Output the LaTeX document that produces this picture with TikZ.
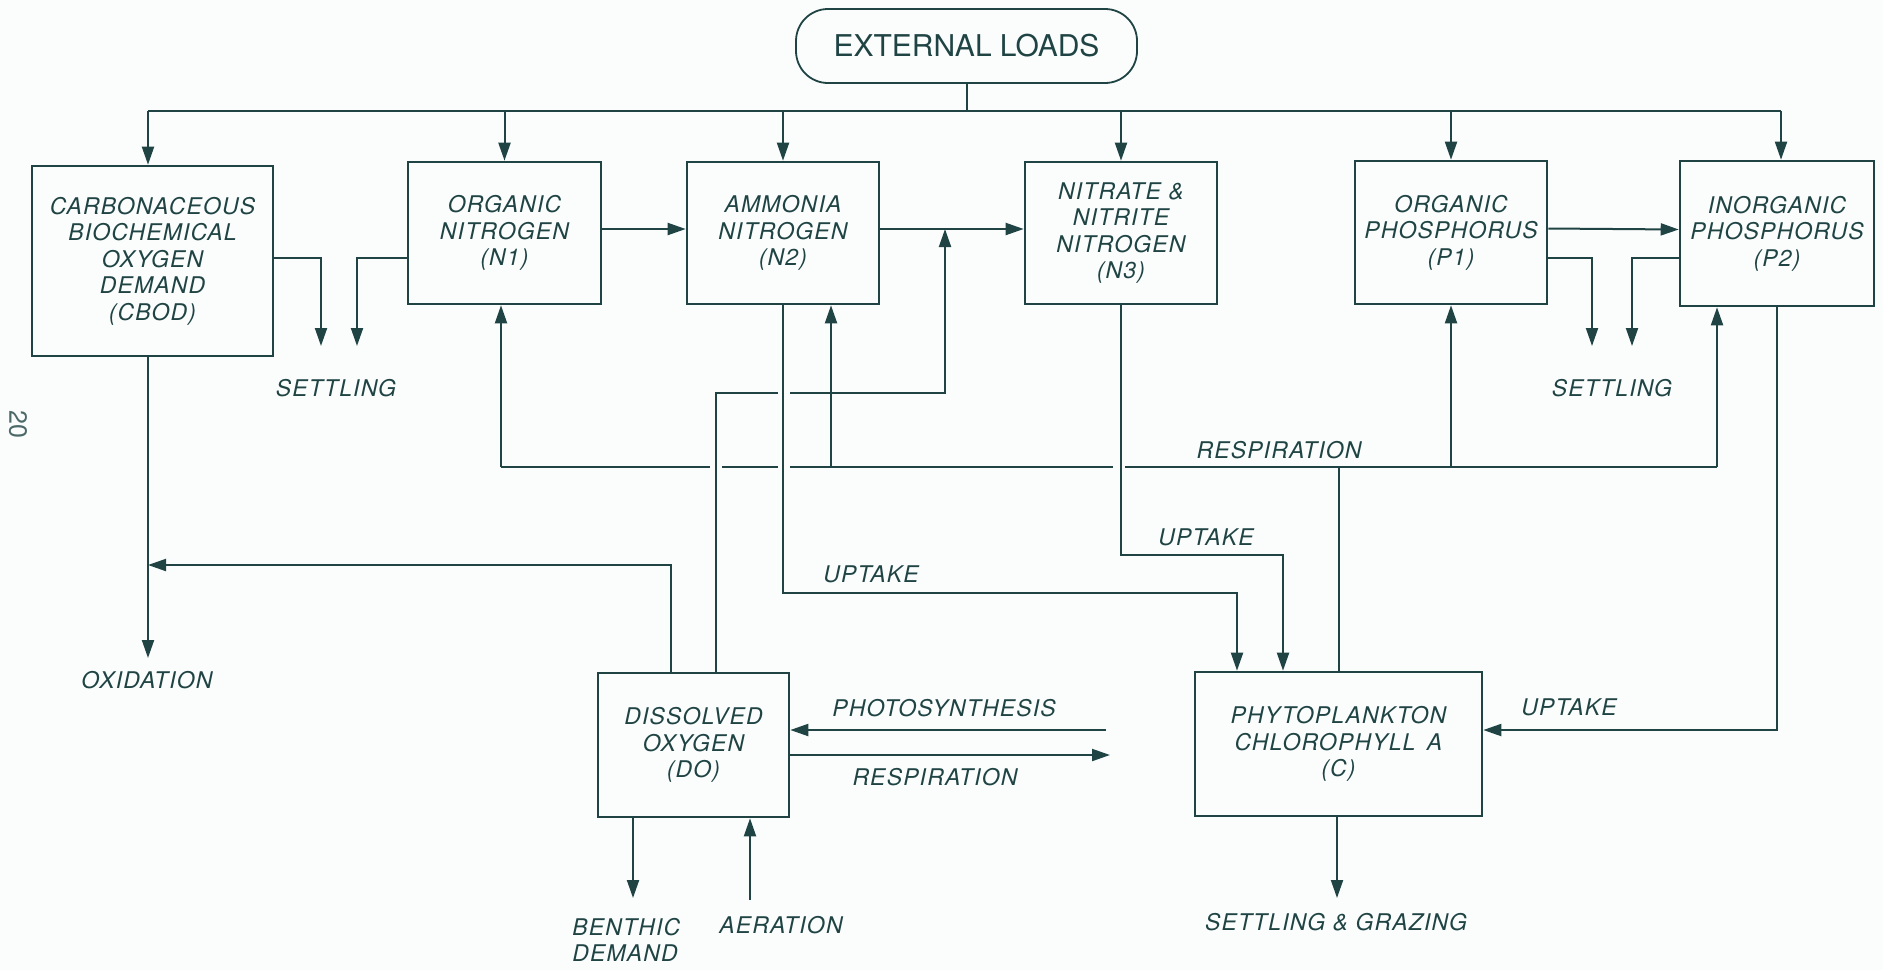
\documentclass[tikz,border=0pt]{standalone}
\usepackage{fontspec}
\newfontfamily\labfont[LetterSpace=5]{TeX Gyre Heros}
\newfontfamily\extfont{TeX Gyre Heros}
\usetikzlibrary{arrows.meta}
\definecolor{ink}{RGB}{32,68,68}
\definecolor{paper}{RGB}{251,253,253}
\begin{document}
\begin{tikzpicture}[x=0.5pt,y=-0.5pt,
  box/.style={draw=ink, line width=1.3pt, inner sep=0pt, align=center, text=ink,
    font=\labfont\itshape\fontsize{11.5}{13.25}\selectfont},
  lab/.style={text=ink, inner sep=0pt, align=center,
    font=\labfont\itshape\fontsize{11.5}{13.25}\selectfont},
  ln/.style={draw=ink, line width=1pt},
  arr/.style={ln, -{Triangle[length=9pt,width=6pt]}}]
\fill[paper] (0,0) rectangle (1883,970);
\useasboundingbox (0,0) rectangle (1883,970);

% ---- nodes ----
\node[draw=ink, line width=0.9pt, rounded corners=16pt, minimum width=170.5pt, minimum height=37pt,
  text=ink, font=\extfont\fontsize{15}{18}\selectfont] (ext) at (966.5,46) {EXTERNAL LOADS};
\node[box, minimum width=120.5pt, minimum height=95pt] (cbod) at (152.5,261)
  {CARBONACEOUS\\BIOCHEMICAL\\OXYGEN\\DEMAND\\(CBOD)};
\node[box, minimum width=96.5pt, minimum height=71pt] (n1) at (504.5,233) {ORGANIC\\NITROGEN\\(N1)};
\node[box, minimum width=96pt, minimum height=71pt] (n2) at (783,233) {AMMONIA\\NITROGEN\\(N2)};
\node[box, minimum width=96pt, minimum height=71pt] (n3) at (1121,233) {NITRATE \&\\NITRITE\\NITROGEN\\(N3)};
\node[box, minimum width=96pt, minimum height=71.5pt] (p1) at (1451,232.5) {ORGANIC\\PHOSPHORUS\\(P1)};
\node[box, minimum width=97pt, minimum height=72.5pt] (p2) at (1777,233.5) {INORGANIC\\PHOSPHORUS\\(P2)};
\node[box, minimum width=95.5pt, minimum height=72pt] (do) at (693.5,745) {DISSOLVED\\OXYGEN\\(DO)};
\node[box, minimum width=143.5pt, minimum height=72pt] (phy) at (1338.5,744)
  {PHYTOPLANKTON\\CHLOROPHYLL\hspace{0.5em}A\\(C)};

% ---- coordinates ----
\coordinate (busL) at (148,111);
\coordinate (busR) at (1781,111);
\coordinate (sety) at (0,258);
\coordinate (s1) at (321,346);
\coordinate (s2) at (357,346);
\coordinate (s3) at (1592,346);
\coordinate (s4) at (1632,346);
\coordinate (ox) at (148,658);
\coordinate (do1) at (671,565);
\coordinate (do2) at (716,393);
\coordinate (jn) at (945,393);
\coordinate (n23) at ([yshift=2pt]n2.east);
\coordinate (ry) at (0,467);
\coordinate (rL) at (501,467);
\coordinate (r2) at (831,467);
\coordinate (rR) at (1717,467);
\coordinate (u1e) at (1237,593);
\coordinate (u2e) at (1283,555);
\coordinate (pu) at ([yshift=7pt]phy.east);
\coordinate (ph1) at (1106,730);
\coordinate (rs1) at (1110,755);
\coordinate (bt) at (633,898);
\coordinate (ae) at (750,900);
\coordinate (sg) at (1337,898);

% ---- external loads bus ----
\draw[ln] (ext.south) -- (ext.south |- busL);
\draw[ln] (busL) -- (busR);
\draw[arr] (busL) -- (busL |- cbod.north);
\draw[arr] (n1.north |- busL) -- (n1.north);
\draw[arr] (n2.north |- busL) -- (n2.north);
\draw[arr] (n3.north |- busL) -- (n3.north);
\draw[arr] (p1.north |- busL) -- (p1.north);
\draw[arr] (busR) -- (busR |- p2.north);

% ---- transformations ----
\draw[arr] ([yshift=2pt]n1.east) -- ([yshift=2pt]n2.west);
\draw[arr] (n23) -- ([yshift=2pt]n3.west);
\draw[arr] ([yshift=2pt]p1.east) -- ([yshift=2pt]p2.west);

% ---- settling ----
\draw[arr] (cbod.east |- sety) -| (s1);
\draw[arr] (n1.west |- sety) -| (s2);
\draw[arr] (p1.east |- sety) -| (s3);
\draw[arr] (p2.west |- sety) -| (s4);
\node[lab] (set1) at (336,388) {SETTLING};
\node[lab] (set2) at (1612,388) {SETTLING};

% ---- oxidation ----
\draw[arr] (cbod.south -| ox) -- (ox);
\node[lab] (oxl) at (147,680) {OXIDATION};
\draw[arr] (do.north -| do1) -- (do1) -- (do1 -| ox);

% ---- DO to nitrification ----
\draw[ln] (do.north -| do2) -- (do2) -- (778,393);
\draw[arr] (790,393) -- (jn) -- (n23 -| jn);

% ---- respiration line ----
\draw[ln] (rL) -- (710,467);
\draw[ln] (722,467) -- (778,467);
\draw[ln] (790,467) -- (1113,467);
\draw[ln] (1125,467) -- (rR);
\draw[arr] (rL) -- (rL |- n1.south);
\draw[arr] (r2) -- (r2 |- n2.south);
\draw[arr] (p1.south |- ry) -- (p1.south);
\draw[arr] (rR) -- (rR |- p2.south);
\draw[ln] (phy.north) -- (phy.north |- ry);
\node[lab] (resp1) at (1279,450) {RESPIRATION};

% ---- uptake ----
\draw[arr] (n2.south) |- (u1e) -- (u1e |- phy.north);
\draw[arr] (n3.south) |- (u2e) -- (u2e |- phy.north);
\draw[arr] (p2.south) |- (pu);
\node[lab] (up1) at (871,574) {UPTAKE};
\node[lab] (up2) at (1206,537) {UPTAKE};
\node[lab] (up3) at (1569,707) {UPTAKE};

% ---- DO / phytoplankton exchange ----
\draw[arr] (ph1) -- (ph1 -| do.east);
\draw[arr] (rs1 -| do.east) -- (rs1);
\node[lab] (phl) at (944,708) {PHOTOSYNTHESIS};
\node[lab] (rsl) at (935,777) {RESPIRATION};

% ---- sinks ----
\draw[arr] (bt |- do.south) -- (bt);
\draw[arr] (ae) -- (ae |- do.south);
\draw[arr] (sg |- phy.south) -- (sg);
\node[lab, align=left, anchor=west] (bdl) at (572,940) {BENTHIC\\DEMAND};
\node[lab] (ael) at (781,925) {AERATION};
\node[lab] (sgl) at (1336,922) {SETTLING \& GRAZING};

% ---- page number ----
\node[text=ink!80, inner sep=0pt, rotate=-90, font=\extfont\fontsize{12.5}{14}\selectfont] (pg) at (18,424) {20};
\end{tikzpicture}
\end{document}
